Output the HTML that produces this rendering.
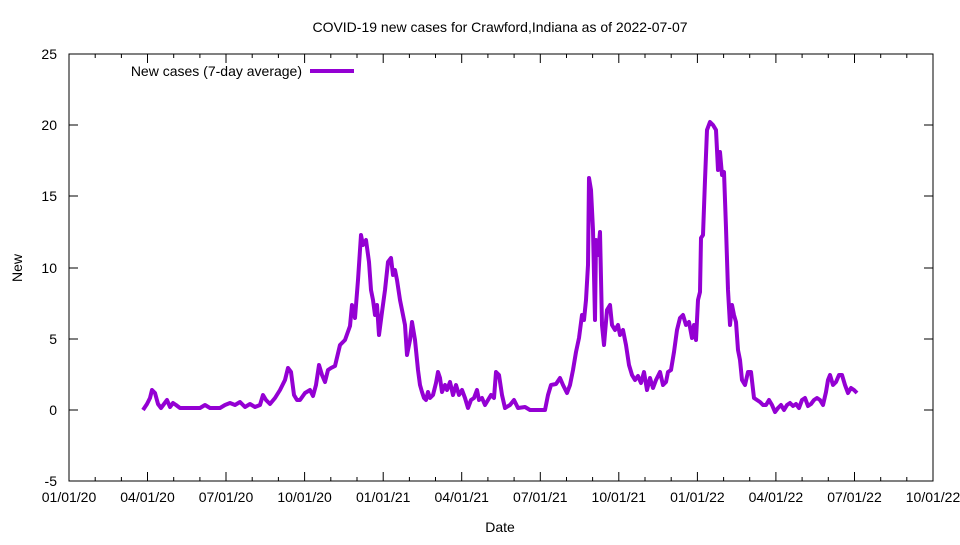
<!DOCTYPE html>
<html><head><meta charset="utf-8"><style>
body{margin:0;background:#fff}
svg text{font-family:"Liberation Sans",sans-serif;font-size:14px;fill:#000}
</style></head><body>
<svg width="960" height="540" viewBox="0 0 960 540" xmlns="http://www.w3.org/2000/svg">
<rect width="960" height="540" fill="#fff"/>
<rect x="69" y="54" width="864" height="427" fill="none" stroke="#000" stroke-width="1"/>
<g stroke="#000" stroke-width="1">
<line x1="69" y1="54" x2="78" y2="54"/><line x1="933" y1="54" x2="924" y2="54"/>
<line x1="69" y1="125" x2="78" y2="125"/><line x1="933" y1="125" x2="924" y2="125"/>
<line x1="69" y1="196" x2="78" y2="196"/><line x1="933" y1="196" x2="924" y2="196"/>
<line x1="69" y1="268" x2="78" y2="268"/><line x1="933" y1="268" x2="924" y2="268"/>
<line x1="69" y1="339" x2="78" y2="339"/><line x1="933" y1="339" x2="924" y2="339"/>
<line x1="69" y1="410" x2="78" y2="410"/><line x1="933" y1="410" x2="924" y2="410"/>
<line x1="69" y1="481" x2="78" y2="481"/><line x1="933" y1="481" x2="924" y2="481"/>
<line x1="69" y1="481" x2="69" y2="472"/><line x1="69" y1="54" x2="69" y2="63"/>
<line x1="147.5" y1="481" x2="147.5" y2="472"/><line x1="147.5" y1="54" x2="147.5" y2="63"/>
<line x1="226" y1="481" x2="226" y2="472"/><line x1="226" y1="54" x2="226" y2="63"/>
<line x1="304.6" y1="481" x2="304.6" y2="472"/><line x1="304.6" y1="54" x2="304.6" y2="63"/>
<line x1="383.2" y1="481" x2="383.2" y2="472"/><line x1="383.2" y1="54" x2="383.2" y2="63"/>
<line x1="461.7" y1="481" x2="461.7" y2="472"/><line x1="461.7" y1="54" x2="461.7" y2="63"/>
<line x1="540.3" y1="481" x2="540.3" y2="472"/><line x1="540.3" y1="54" x2="540.3" y2="63"/>
<line x1="618.8" y1="481" x2="618.8" y2="472"/><line x1="618.8" y1="54" x2="618.8" y2="63"/>
<line x1="697.4" y1="481" x2="697.4" y2="472"/><line x1="697.4" y1="54" x2="697.4" y2="63"/>
<line x1="775.9" y1="481" x2="775.9" y2="472"/><line x1="775.9" y1="54" x2="775.9" y2="63"/>
<line x1="854.5" y1="481" x2="854.5" y2="472"/><line x1="854.5" y1="54" x2="854.5" y2="63"/>
</g>
<g stroke="#000" stroke-width="1">
<path d="M95.2 481v-4M121.4 481v-4M173.7 481v-4M199.9 481v-4M252.2 481v-4M278.4 481v-4M330.8 481v-4M357 481v-4M409.4 481v-4M435.5 481v-4M487.9 481v-4M514.1 481v-4M566.5 481v-4M592.6 481v-4M645 481v-4M671.2 481v-4M723.6 481v-4M749.7 481v-4M802.1 481v-4M828.3 481v-4M880.7 481v-4M906.8 481v-4"/>
<path d="M95.2 54v4M121.4 54v4M173.7 54v4M199.9 54v4M252.2 54v4M278.4 54v4M330.8 54v4M357 54v4M409.4 54v4M435.5 54v4M487.9 54v4M514.1 54v4M566.5 54v4M592.6 54v4M645 54v4M671.2 54v4M723.6 54v4M749.7 54v4M802.1 54v4M828.3 54v4M880.7 54v4M906.8 54v4"/>
</g>
<g text-anchor="end">
<text x="57" y="59">25</text><text x="57" y="130">20</text><text x="57" y="201">15</text>
<text x="57" y="273">10</text><text x="57" y="344">5</text><text x="57" y="415">0</text><text x="57" y="486">-5</text>
</g>
<g text-anchor="middle">
<text x="69" y="502">01/01/20</text><text x="147.5" y="502">04/01/20</text><text x="226" y="502">07/01/20</text>
<text x="304.6" y="502">10/01/20</text><text x="383.2" y="502">01/01/21</text><text x="461.7" y="502">04/01/21</text>
<text x="540.3" y="502">07/01/21</text><text x="618.8" y="502">10/01/21</text><text x="697.4" y="502">01/01/22</text>
<text x="775.9" y="502">04/01/22</text><text x="854.5" y="502">07/01/22</text><text x="933" y="502">10/01/22</text>
<text x="500" y="32">COVID-19 new cases for Crawford,Indiana as of 2022-07-07</text>
<text x="500" y="532">Date</text>
<text x="0" y="0" transform="translate(22,268) rotate(-90)">New</text>
</g>
<text x="302" y="76" text-anchor="end">New cases (7-day average)</text>
<line x1="310" y1="71" x2="354" y2="71" stroke="#9400d3" stroke-width="4"/>
<polyline fill="none" stroke="#9400d3" stroke-width="4" stroke-linejoin="round" points="143,410 147,404 150,398 152,390 155,393 158,404 161,408 164,404 167,400 170,407 173,403 176,405 180,408 185,408 200,408 205,405 210,408 220,408 225,405 230,403 235,405 240,402 245,407 250,404 255,407 260,405 263,395 266,400 270,404 275,398 280,390 285,380 288,368 291,372 294,395 297,400 300,400 305,393 310,390 313,396 316,385 319,365 322,375 325,382 328,370 331,368 335,366 340,345 345,340 350,326 352,305 355,318 358,280 361,235 363,245 366,240 369,262 371,290 373,300 375,315 377,305 379,335 382,312 385,290 388,262 391,258 393,275 395,270 397,280 400,300 403,315 405,325 407,355 410,340 412,322 415,340 418,370 420,385 422,392 424,398 426,400 428,392 430,398 433,395 436,383 438,372 440,378 442,392 445,385 447,390 450,382 453,395 456,385 459,395 462,390 465,398 468,408 471,400 474,398 477,390 479,400 482,398 485,405 488,400 491,395 494,398 496,372 499,375 502,395 505,408 510,405 514,400 518,408 525,407 530,410 545,410 548,395 551,385 556,384 560,378 563,385 567,393 570,385 573,370 576,352 579,338 582,315 584,320 586,300 588,265 589,178 591,190 593,230 595,320 596,240 598,255 600,232 602,325 604,345 607,310 610,305 612,325 615,330 618,325 620,335 623,330 626,345 629,365 632,375 635,380 638,376 641,383 644,372 647,390 650,378 653,388 656,380 660,372 663,385 666,382 668,372 671,370 674,352 677,330 680,318 683,315 686,325 689,322 692,338 694,325 696,340 698,300 700,292 701,238 703,235 705,180 707,130 710,122 713,125 716,130 718,170 720,152 722,175 724,172 726,228 728,290 730,325 732,305 734,315 736,322 738,350 740,360 742,380 745,385 748,372 751,372 754,398 757,400 760,402 763,405 766,405 769,400 772,405 775,412 778,408 781,405 784,410 787,405 790,403 793,406 796,404 799,408 802,400 805,398 808,406 811,404 814,400 817,398 820,400 823,405 826,392 828,380 830,375 833,385 836,382 839,375 842,375 845,385 848,393 851,388 854,390 857,393"/>
</svg>
</body></html>
